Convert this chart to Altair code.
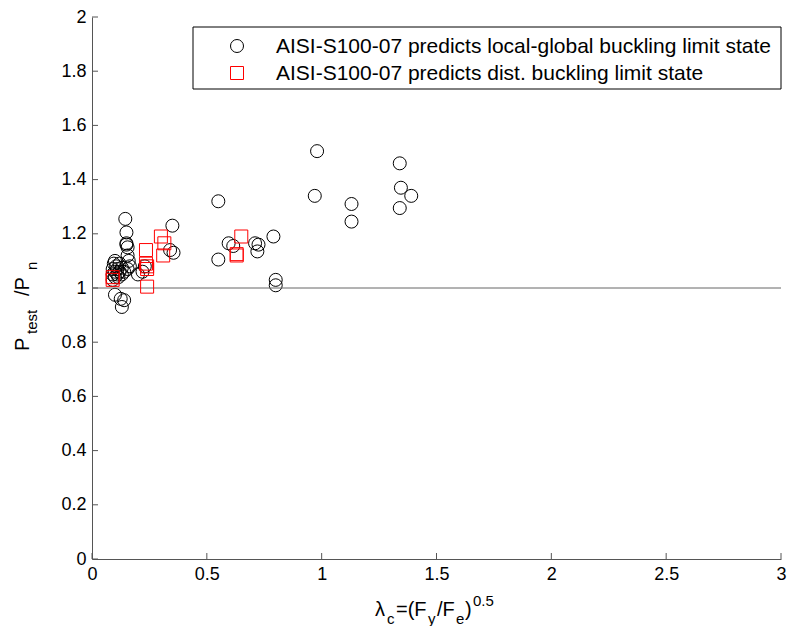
import altair as alt
import pandas as pd

# ---- data ----
lg_x = [0.09, 0.09, 0.09, 0.095, 0.10, 0.10, 0.10, 0.105, 0.11, 0.11, 0.115, 0.12, 0.12, 0.13, 0.13, 0.14,
        0.10, 0.125, 0.14, 0.13,
        0.145, 0.15, 0.15, 0.155, 0.15, 0.155, 0.16, 0.165, 0.155,
        0.20, 0.22, 0.23,
        0.34, 0.355, 0.35,
        0.55, 0.55, 0.595, 0.615, 0.71, 0.725, 0.72, 0.79, 0.80, 0.80,
        0.98, 0.97, 1.13, 1.13, 1.34, 1.345, 1.39, 1.34]
lg_y = [1.03, 1.05, 1.07, 1.09, 1.10, 1.04, 1.06, 1.08, 1.05, 1.07, 1.04, 1.06, 1.09, 1.05, 1.075, 1.06,
        0.975, 0.96, 0.955, 0.93,
        1.255, 1.205, 1.165, 1.15, 1.16, 1.12, 1.10, 1.08, 1.07,
        1.05, 1.06, 1.08,
        1.14, 1.13, 1.23,
        1.32, 1.105, 1.165, 1.155, 1.165, 1.16, 1.135, 1.19, 1.03, 1.01,
        1.505, 1.34, 1.31, 1.245, 1.46, 1.37, 1.34, 1.295]

d_x = [0.09, 0.09, 0.235, 0.235, 0.24, 0.24, 0.24, 0.30, 0.315, 0.31, 0.65, 0.63, 0.63]
d_y = [1.03, 1.04, 1.14, 1.09, 1.08, 1.07, 1.005, 1.19, 1.165, 1.12, 1.19, 1.125, 1.12]

x_ticks = [0, 0.5, 1, 1.5, 2, 2.5, 3]
y_ticks = [0, 0.2, 0.4, 0.6, 0.8, 1, 1.2, 1.4, 1.6, 1.8, 2]

legend_labels = ["AISI-S100-07 predicts local-global buckling limit state",
                 "AISI-S100-07 predicts dist. buckling limit state"]

W, H = 689, 542
FONT = "Liberation Sans"
AXIS_COLOR = "#555555"

lg = pd.DataFrame({"x": lg_x, "y": lg_y})
dd = pd.DataFrame({"x": d_x, "y": d_y})
xt = pd.DataFrame({"t": x_ticks})
yt = pd.DataFrame({"t": y_ticks})
one = pd.DataFrame({"a": [0]})

xscale = alt.Scale(domain=[0, 3], nice=False, zero=False)
yscale = alt.Scale(domain=[0, 2], nice=False, zero=False)

xaxis = alt.Axis(values=x_ticks, format="~g", grid=False, tickSize=0, domainColor=AXIS_COLOR,
                 labelFont=FONT, labelFontSize=18, labelColor="black", labelPadding=6,
                 title=None, labelFlush=False)
yaxis = alt.Axis(values=y_ticks, format="~g", grid=False, tickSize=0, domainColor=AXIS_COLOR,
                 labelFont=FONT, labelFontSize=18, labelColor="black", labelPadding=6,
                 title=None, labelFlush=False)

circles = alt.Chart(lg).mark_point(shape="circle", filled=False, color="black",
                                   size=169, strokeWidth=1, opacity=1).encode(
    x=alt.X("x:Q", scale=xscale, axis=xaxis),
    y=alt.Y("y:Q", scale=yscale, axis=yaxis),
)
squares = alt.Chart(dd).mark_point(shape="square", filled=False, color="#ff0000",
                                   size=169, strokeWidth=1, opacity=1).encode(
    x=alt.X("x:Q", scale=xscale),
    y=alt.Y("y:Q", scale=yscale),
)

ref = alt.Chart(one).mark_rule(color="#666666", strokeWidth=1).encode(
    y=alt.datum(1, scale=yscale), x=alt.value(0), x2=alt.value(W))

xtick = alt.Chart(xt).mark_rule(color=AXIS_COLOR, strokeWidth=1).encode(
    x=alt.X("t:Q", scale=xscale), y=alt.value(H), y2=alt.value(H - 6))
ytick = alt.Chart(yt).mark_rule(color=AXIS_COLOR, strokeWidth=1).encode(
    y=alt.Y("t:Q", scale=yscale), x=alt.value(0), x2=alt.value(6))

# legend box
leg_box = alt.Chart(one).mark_rect(fill="white", stroke="black", strokeWidth=1).encode(
    x=alt.value(101), x2=alt.value(689), y=alt.value(10), y2=alt.value(72))
leg_c = alt.Chart(one).mark_point(shape="circle", filled=False, color="black", size=169,
                                  strokeWidth=1, opacity=1).encode(
    x=alt.value(145), y=alt.value(29))
leg_s = alt.Chart(one).mark_point(shape="square", filled=False, color="#ff0000", size=169,
                                  strokeWidth=1, opacity=1).encode(
    x=alt.value(145), y=alt.value(56))
leg_t1 = alt.Chart(one).mark_text(font=FONT, fontSize=21, align="left", baseline="middle",
                                  color="black").encode(
    x=alt.value(184), y=alt.value(30), text=alt.value(legend_labels[0]))
leg_t2 = alt.Chart(one).mark_text(font=FONT, fontSize=21, align="left", baseline="middle",
                                  color="black").encode(
    x=alt.value(184), y=alt.value(57), text=alt.value(legend_labels[1]))

def piece(txt, size, px, py, angle=0):
    return alt.Chart(one).mark_text(font=FONT, fontSize=size, align="left",
                                    baseline="alphabetic", color="black", angle=angle).encode(
        x=alt.value(px), y=alt.value(py), text=alt.value(txt))

# pieces placed relative to plot origin (page 92, 17)
xtitle = [
    piece("λ", 20, 283, 599),
    piece("c", 15, 295, 607),
    piece("=(F", 20, 304, 599),
    piece("y", 15, 336, 607),
    piece("/F", 20, 345, 599),
    piece("e", 15, 364, 607),
    piece(")", 20, 373, 599),
    piece("0.5", 15, 381, 589),
]
ytitle = [
    piece("P", 20, -63, 334, 270),
    piece("test", 15, -55, 317, 270),
    piece("/P", 20, -63, 279, 270),
    piece("n", 15, -55, 253, 270),
]

chart = alt.layer(circles, ref, squares, xtick, ytick, leg_box, leg_c, leg_s, leg_t1, leg_t2,
                  *xtitle, *ytitle).properties(
    width=W, height=H,
    autosize=alt.AutoSizeParams(type="none"),
    padding={"left": 84, "top": 9, "right": 6, "bottom": 67},
    background="white",
).configure_view(stroke=None)

chart.save("out.html", embed_options={"renderer": "svg", "actions": False})
